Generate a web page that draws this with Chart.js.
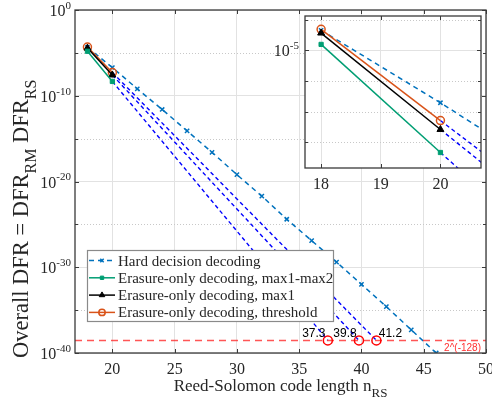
<!DOCTYPE html>
<html>
<head>
<meta charset="utf-8">
<script src="https://cdn.jsdelivr.net/npm/chart.js@4"></script>
<style>
  body{margin:0;background:#fff;}
  #wrap{position:relative;width:492px;height:407px;}
  #wrap canvas{position:absolute;}
  #main{left:0;top:0;}
  #inset{left:262px;top:10px;}
</style>
</head>
<body>
<div id="wrap">
  <canvas id="main" width="492" height="407"></canvas>
  <canvas id="inset" width="226" height="180"></canvas>
</div>
<script>
// RS code length n and log10(DFR)
let hardN = [18, 20, 22, 24, 26, 28, 30, 32, 34, 36, 38, 40, 42, 44, 46];
let hardExp = [-4.35, -6.71, -9.2, -11.6, -14.1, -16.6, -19.2, -21.7, -24.4, -26.9, -29.4, -32.0, -34.6, -37.3, -40.0];
let erasureN = [18, 20];
let maxMaxExp = [-4.81, -8.33];
let max1Exp = [-4.44, -7.58];
let thresholdExp = [-4.32, -7.29];
// where the extrapolations reach 2^-128
let crossN = [37.3, 39.8, 41.2];
let crossLabels = ['37.3', '39.8', '41.2'];
let targetDfr = Math.pow(2, -128);

let xTicks = [20, 25, 30, 35, 40, 45, 50];
let yTickExp = [0, -10, -20, -30, -40];
let yMinorExp = [-5, -15, -25, -35];
let insetXTicks = [18, 19, 20];
let insetYTickExp = [-5];
let insetYMinorExp = [-4, -6, -7, -8];

const SERIF = '"Liberation Serif", "Times New Roman", serif';
const SANS = '"Liberation Sans", Arial, sans-serif';
const AXIS = '#3a3a3a';
const TXT = '#262626';

function pts(xs, exps){
    return xs.map((x, i) => ({x: x, y: Math.pow(10, exps[i])}));
}

function buildSets(withRef){
    let sets = [
        {label: 'Hard decision decoding', data: pts(hardN, hardExp), borderColor: '#0072BD', backgroundColor: '#0072BD',
         borderWidth: 1.5, borderDash: [5, 4], pointStyle: 'crossRot', pointRadius: 3, pointBorderWidth: 1.5, order: 3},
        {label: 'Erasure-only decoding, max1-max2', data: pts(erasureN, maxMaxExp), borderColor: '#009E73', backgroundColor: '#009E73',
         borderWidth: 1.5, pointStyle: 'rect', pointRadius: 3, pointBorderWidth: 1, order: 1},
        {label: 'Erasure-only decoding, max1', data: pts(erasureN, max1Exp), borderColor: '#000000', backgroundColor: '#000000',
         borderWidth: 1.5, pointStyle: 'triangle', pointRadius: 4, pointBorderWidth: 1, order: 1},
        {label: 'Erasure-only decoding, threshold', data: pts(erasureN, thresholdExp), borderColor: '#D95319', backgroundColor: 'rgba(0,0,0,0)',
         borderWidth: 1.5, pointStyle: 'circle', pointRadius: 4, pointBorderWidth: 1.5, order: 1}
    ];
    let ends = [maxMaxExp, max1Exp, thresholdExp];
    ends.forEach((e, i) => {
        sets.push({label: 'extrap' + i, data: [{x: erasureN[1], y: Math.pow(10, e[1])}, {x: crossN[i], y: targetDfr}],
                   borderColor: '#0000FF', borderWidth: 1.4, borderDash: [4, 3], pointRadius: 0, order: 2});
    });
    if(withRef){
        sets.push({label: 'cross', data: crossN.map(x => ({x: x, y: targetDfr})), showLine: false,
                   pointStyle: 'circle', pointRadius: 4.5, pointBorderWidth: 1.5, borderColor: '#FF0000', backgroundColor: 'rgba(0,0,0,0)', order: 0});
        sets.push({label: 'ref', data: [{x: 17, y: targetDfr}, {x: 50, y: targetDfr}], borderColor: 'rgba(255,30,30,0.75)',
                   borderWidth: 1.5, borderDash: [7, 5], pointRadius: 0, order: 0});
    }
    return sets;
}

function drawPow(ctx, exp, xRight, yBase, size, supSize){
    let sup = String(exp);
    ctx.font = supSize + 'px ' + SERIF;
    let ws = ctx.measureText(sup).width;
    ctx.font = size + 'px ' + SERIF;
    let wb = ctx.measureText('10').width;
    ctx.textAlign = 'left';
    ctx.textBaseline = 'alphabetic';
    ctx.fillText('10', xRight - ws - wb, yBase);
    ctx.font = supSize + 'px ' + SERIF;
    ctx.fillText(sup, xRight - ws, yBase - size * 0.45);
}

// text with subscript runs, drawn from x along the baseline
function drawRuns(ctx, runs, x, y, size, subSize){
    ctx.textAlign = 'left';
    ctx.textBaseline = 'alphabetic';
    runs.forEach(r => {
        ctx.font = (r.sub ? subSize : size) + 'px ' + SERIF;
        ctx.fillText(r.t, x, y + (r.sub ? size * 0.35 : 0));
        x += ctx.measureText(r.t).width;
    });
    return x;
}
function runsWidth(ctx, runs, size, subSize){
    let w = 0;
    runs.forEach(r => {
        ctx.font = (r.sub ? subSize : size) + 'px ' + SERIF;
        w += ctx.measureText(r.t).width;
    });
    return w;
}

function frameAndTicks(chart, xt, yMaj, yMin){
    let ctx = chart.ctx, a = chart.chartArea;
    let xs = chart.scales.x, ys = chart.scales.y;
    ctx.save();
    ctx.strokeStyle = AXIS;
    ctx.lineWidth = 1;
    xt.forEach(v => {
        let px = Math.round(xs.getPixelForValue(v)) + 0.5;
        ctx.beginPath();
        ctx.moveTo(px, a.bottom); ctx.lineTo(px, a.bottom - 4);
        ctx.moveTo(px, a.top); ctx.lineTo(px, a.top + 4);
        ctx.stroke();
    });
    yMaj.concat(yMin).forEach((e, i) => {
        let py = Math.round(ys.getPixelForValue(Math.pow(10, e))) + 0.5;
        let len = i < yMaj.length ? 4 : 3;
        ctx.beginPath();
        ctx.moveTo(a.left, py); ctx.lineTo(a.left + len, py);
        ctx.moveTo(a.right, py); ctx.lineTo(a.right - len, py);
        ctx.stroke();
    });
    ctx.lineWidth = 1.3;
    ctx.strokeRect(a.left, a.top, a.right - a.left, a.bottom - a.top);
    ctx.restore();
}

function minorGrid(chart, yMin){
    let ctx = chart.ctx, a = chart.chartArea, ys = chart.scales.y;
    ctx.save();
    ctx.strokeStyle = '#c8c8c8';
    ctx.lineWidth = 1;
    ctx.setLineDash([1, 2]);
    yMin.forEach(e => {
        let py = Math.round(ys.getPixelForValue(Math.pow(10, e))) + 0.5;
        ctx.beginPath();
        ctx.moveTo(a.left, py); ctx.lineTo(a.right, py);
        ctx.stroke();
    });
    ctx.restore();
}

const mainDecor = {
    id: 'mainDecor',
    beforeDatasetsDraw(chart){
        minorGrid(chart, yMinorExp);
    },
    afterDraw(chart){
        let ctx = chart.ctx, a = chart.chartArea;
        let xs = chart.scales.x, ys = chart.scales.y;
        frameAndTicks(chart, xTicks, yTickExp, yMinorExp);
        ctx.save();
        ctx.fillStyle = TXT;
        // x tick labels
        ctx.font = '16px ' + SERIF;
        ctx.textAlign = 'center';
        ctx.textBaseline = 'alphabetic';
        xTicks.forEach(v => ctx.fillText(String(v), xs.getPixelForValue(v), a.bottom + 21));
        // y tick labels
        yTickExp.forEach(e => drawPow(ctx, e, a.left - 4, ys.getPixelForValue(Math.pow(10, e)) + 6, 16, 11));
        // x title
        let xr = [{t: 'Reed-Solomon code length n'}, {t: 'RS', sub: true}];
        let w = runsWidth(ctx, xr, 17, 13);
        drawRuns(ctx, xr, (a.left + a.right) / 2 - w / 2, a.bottom + 38, 17, 13);
        // y title
        let yr = [{t: 'Overall DFR = DFR'}, {t: 'RM', sub: true}, {t: ' DFR'}, {t: 'RS', sub: true}];
        ctx.translate(28, 358);
        ctx.rotate(-Math.PI / 2);
        drawRuns(ctx, yr, 0, 0, 22.5, 16);
        ctx.setTransform(1, 0, 0, 1, 0, 0);

        // crossing labels
        let dx = [-14, -14, 14];
        ctx.fillStyle = '#000';
        ctx.font = '12px ' + SANS;
        ctx.textAlign = 'center';
        crossN.forEach((x, i) => {
            ctx.fillText(crossLabels[i], xs.getPixelForValue(x) + dx[i], ys.getPixelForValue(targetDfr) - 3);
        });
        // reference line label
        ctx.fillStyle = '#FF3030';
        ctx.font = '10px ' + SANS;
        ctx.textAlign = 'right';
        ctx.fillText('2^(-128)', a.right - 5, ys.getPixelForValue(targetDfr) + 11);

        // legend
        let lx = 87, ly = 250, lw = 246, lh = 71;
        ctx.fillStyle = '#fff';
        ctx.fillRect(lx, ly, lw, lh);
        ctx.strokeStyle = '#8a8a8a';
        ctx.lineWidth = 1.2;
        ctx.strokeRect(lx + 0.5, ly + 0.5, lw, lh);
        chart.data.datasets.slice(0, 4).forEach((ds, i) => {
            let cy = ly + 10.5 + i * 17.3;
            ctx.save();
            ctx.strokeStyle = ds.borderColor;
            ctx.lineWidth = 1.5;
            ctx.setLineDash(ds.borderDash || []);
            ctx.beginPath();
            ctx.moveTo(lx + 2, cy); ctx.lineTo(lx + 28, cy);
            ctx.stroke();
            ctx.setLineDash([]);
            ctx.fillStyle = ds.backgroundColor;
            ctx.lineWidth = ds.pointBorderWidth;
            Chart.helpers.drawPoint(ctx, {pointStyle: ds.pointStyle, radius: ds.pointRadius * 0.8, borderWidth: ds.pointBorderWidth, rotation: 0}, lx + 15, cy);
            ctx.restore();
            ctx.fillStyle = TXT;
            ctx.font = '15px ' + SERIF;
            ctx.textAlign = 'left';
            ctx.fillText(ds.label, lx + 31, cy + 5);
        });
        ctx.restore();
    }
};

const insetDecor = {
    id: 'insetDecor',
    beforeDraw(chart){
        let a = chart.chartArea;
        chart.ctx.save();
        chart.ctx.fillStyle = '#fff';
        chart.ctx.fillRect(a.left, a.top, a.right - a.left, a.bottom - a.top);
        chart.ctx.restore();
    },
    beforeDatasetsDraw(chart){
        minorGrid(chart, insetYMinorExp);
    },
    afterDraw(chart){
        let ctx = chart.ctx, a = chart.chartArea;
        let xs = chart.scales.x, ys = chart.scales.y;
        frameAndTicks(chart, insetXTicks, insetYTickExp, insetYMinorExp);
        ctx.save();
        ctx.fillStyle = TXT;
        ctx.font = '16px ' + SERIF;
        ctx.textAlign = 'center';
        insetXTicks.forEach(v => ctx.fillText(String(v), xs.getPixelForValue(v), a.bottom + 21));
        insetYTickExp.forEach(e => drawPow(ctx, e, a.left - 6, ys.getPixelForValue(Math.pow(10, e)) + 6, 16, 11));
        ctx.restore();
    }
};

function scaleOpts(xmin, xmax, ymin, ymax, xt, yt){
    return {
        x: {type: 'linear', min: xmin, max: xmax,
            afterBuildTicks: s => { s.ticks = xt.map(v => ({value: v})); },
            ticks: {display: false}, grid: {color: '#e2e2e2', lineWidth: 1, drawTicks: false}, border: {display: false}},
        y: {type: 'logarithmic', min: ymin, max: ymax,
            afterBuildTicks: s => { s.ticks = yt.map(e => ({value: Math.pow(10, e)})); },
            ticks: {display: false}, grid: {color: '#e2e2e2', lineWidth: 1, drawTicks: false}, border: {display: false}}
    };
}

new Chart(document.getElementById('main').getContext('2d'), {
    type: 'line',
    data: {datasets: buildSets(true)},
    options: {
        responsive: false,
        animation: false,
        layout: {padding: {left: 75, top: 10, right: 6, bottom: 54}},
        plugins: {legend: {display: false}, tooltip: {enabled: false}},
        scales: scaleOpts(17, 50, 1e-40, 1, xTicks, yTickExp)
    },
    plugins: [mainDecor]
});

new Chart(document.getElementById('inset').getContext('2d'), {
    type: 'line',
    data: {datasets: buildSets(false)},
    options: {
        responsive: false,
        animation: false,
        layout: {padding: {left: 43, top: 6, right: 7, bottom: 22}},
        plugins: {legend: {display: false}, tooltip: {enabled: false}},
        scales: scaleOpts(17.73, 20.68, Math.pow(10, -8.835), Math.pow(10, -3.885), insetXTicks, insetYTickExp)
    },
    plugins: [insetDecor]
});
</script>
</body>
</html>
